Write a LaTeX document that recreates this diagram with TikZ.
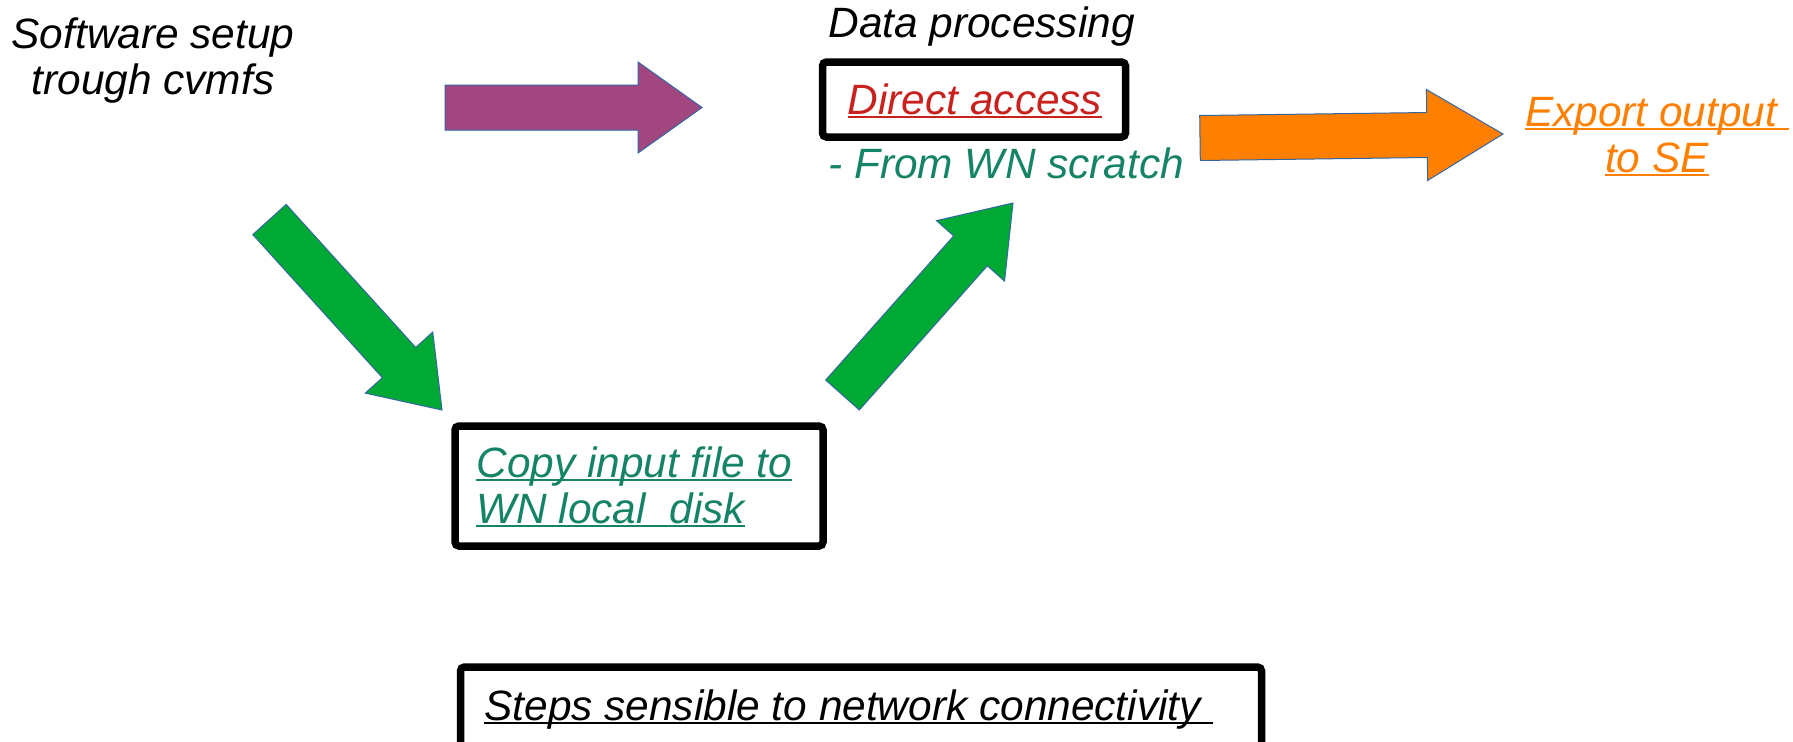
\documentclass[tikz,border=0pt]{standalone}
\usepackage{fontspec}
\setmainfont{Liberation Sans}
\usetikzlibrary{calc, positioning}
\definecolor{lomagenta}{HTML}{A1467E}
\definecolor{logreen}{HTML}{00A933}
\definecolor{loorange}{HTML}{FF8000}
\definecolor{lored}{HTML}{C9211E}
\definecolor{loteal}{HTML}{158466}
\definecolor{loblue}{HTML}{3465A4}
% underline that runs through the descenders
\newcommand\undl[1]{\sbox0{#1}\rlap{\rule[-0.1em]{\wd0}{0.06em}}\usebox0}
% fat arrow: colour, tail, tip, head length
\newcommand\blockarrow[4]{%
  \filldraw[fatarrow, fill=#1]
    ($(#2)!11.25pt!90:(#3)$) -- ($(#3)!#4!(#2)!11.25pt!90:(#3)$)
    -- ($(#3)!#4!(#2)!22.75pt!90:(#3)$) -- (#3)
    -- ($(#3)!#4!(#2)!22.75pt!-90:(#3)$) -- ($(#3)!#4!(#2)!11.25pt!-90:(#3)$)
    -- ($(#2)!11.25pt!-90:(#3)$) -- cycle;}
\tikzset{txt/.style={font=\fontsize{21.2}{23}\selectfont\itshape, inner sep=0pt}, % all labels
frm/.style={draw, line width=3.75pt, rounded corners=2pt, inner sep=0pt}, % thick black frames
fatarrow/.style={draw=loblue, line width=0.5pt, line join=miter}, % block arrows
}
\begin{document}
\begin{tikzpicture}[x=0.5pt, y=-0.5pt]
  \useasboundingbox (0,0) rectangle (1793,741);

  % frames
  \node[frm, minimum width=151.5pt, minimum height=37.5pt] (direct) at (974,99.5) {};
  \node[frm, minimum width=184pt, minimum height=60pt] (copybox) at (639,486) {};
  \node[frm, minimum width=400.5pt, minimum height=46.5pt] (stepsbox) at (861,713.5) {};

  % labels (multi-line ones sit on their last line)
  \node[txt, anchor=base, align=center] (soft) at (153,94) {Software setup\\trough cvmfs};
  \node[txt, anchor=base west] (data) at (828,37) {Data processing};
  \node[txt, anchor=base, text=lored] (directtxt) at (975,114) {\undl{Direct access}};
  \node[txt, anchor=base west, text=loteal] (scratch) at (828,178) {- From WN scratch};
  \node[txt, anchor=base, align=center, text=loorange] (export) at (1657,172) {\undl{Export output\ }\\\undl{to SE}};
  \node[txt, anchor=base west, align=left, text=loteal] (copy) at (476,523) {\undl{Copy input file to}\\\undl{WN local\ \ disk}};
  \node[txt, anchor=base west] (steps) at (484,720) {\undl{Steps sensible to network connectivity\ }};

  % arrow ends
  \coordinate (a0) at (445,107.5);  \coordinate (a1) at (702,107.5);
  \coordinate (b0) at (269.5,219.5); \coordinate (b1) at (442,410);
  \coordinate (c0) at (842.5,395);  \coordinate (c1) at (1013,203);
  \coordinate (d0) at (1200,138);   \coordinate (d1) at (1503,134);

  \blockarrow{lomagenta}{a0}{a1}{32pt}
  \blockarrow{logreen}{b0}{b1}{32pt}
  \blockarrow{logreen}{c0}{c1}{32pt}
  \blockarrow{loorange}{d0}{d1}{38pt}
\end{tikzpicture}
\end{document}
